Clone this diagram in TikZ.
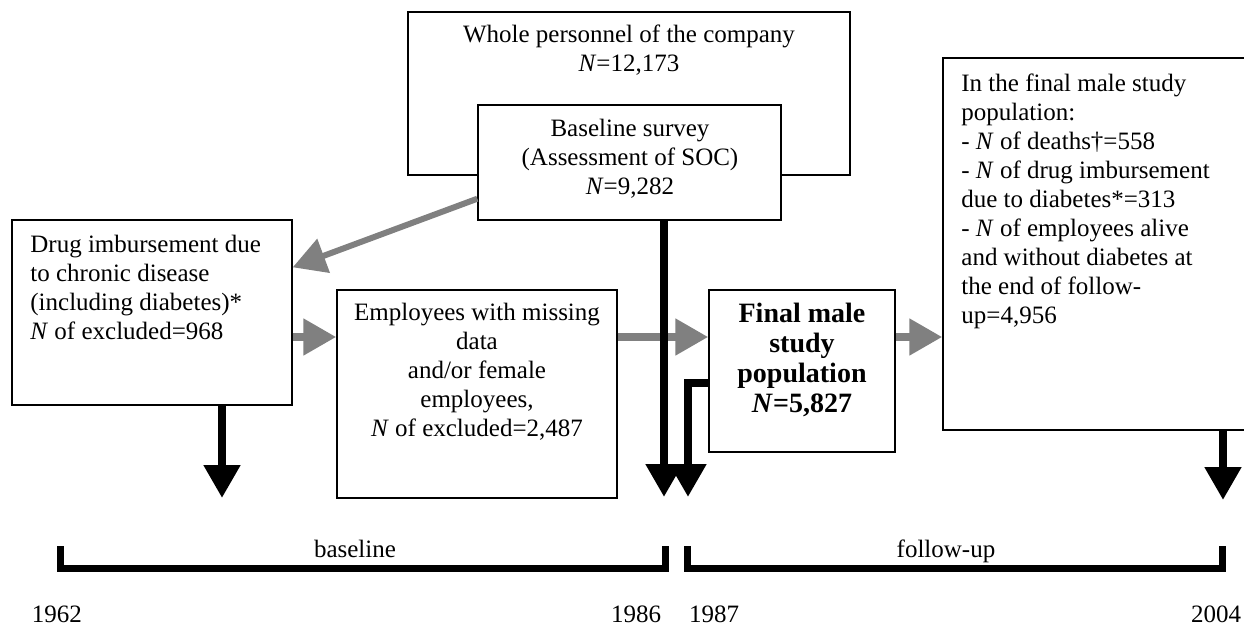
\documentclass[tikz,border=0pt]{standalone}
\usepackage{fontspec}
\setmainfont{Liberation Serif}
\usetikzlibrary{arrows.meta,fit}
\definecolor{arrgrey}{RGB}{128,128,128}
\newcommand{\fs}{\fontsize{12.5pt}{14.5pt}\selectfont}
\newcommand{\fb}{\fontsize{14pt}{15pt}\selectfont\bfseries}

\tikzset{
  box/.style={draw, line width=.7pt, inner sep=0pt},
  txt/.style={font=\fs, inner sep=0pt},
  greyarrow/.style={draw=arrgrey, line width=4pt, -{Triangle[length=16.5pt,width=17.5pt]}},
  blackarrow/.style={line width=4pt, -{Triangle[length=16.5pt,width=17.5pt]}},
  bracket/.style={line width=3.5pt, line join=miter}
}

\begin{document}
\begin{tikzpicture}[x=.5pt, y=-.5pt]
  \clip (0,0) rectangle (1244,627);

  %% boxes
  \node[box, fit={(408,12) (850,175)}] (whole) {};
  \node[box, fill=white, fit={(478,105) (781,220)}] (survey) {};
  \node[box, fit={(12,220) (292,405)}] (drug) {};
  \node[box, fit={(337,290) (617,498)}] (excl) {};
  \node[box, fit={(709,290) (895,452)}] (final) {};
  \node[box, fit={(943,58) (1262,430)}] (result) {};

  %% texts
  \node[txt, align=center] (wholetxt) at (629,50) {Whole personnel of the company\\\textit{N}=12,173};
  \node[txt, align=center] (surveytxt) at (630,159) {Baseline survey\\(Assessment of SOC)\\\textit{N}=9,282};
  \node[txt, align=left, anchor=west] (drugtxt) at (30,287) {Drug imbursement due\\to chronic disease\\(including diabetes)*\\\textit{N} of excluded=968};
  \node[txt, align=center] (excltxt) at (477,372) {Employees with missing\\data\\and/or female\\employees,\\\textit{N} of excluded=2,487};
  \node[txt, align=center, font=\fb] (finaltxt) at (802,360) {Final male\\study\\population\\\textit{N}=5,827};
  \node[txt, align=left, anchor=west] (resulttxt) at (961,201) {In the final male study\\population:\\- \textit{N} of deaths\textdagger=558\\- \textit{N} of drug imbursement\\due to diabetes*=313\\- \textit{N} of employees alive\\and without diabetes at\\the end of follow-\\up=4,956};

  %% coordinates
  \coordinate (mid) at (0,337);
  \coordinate (sdown) at (664,497);
  \coordinate (fturn) at (688,383);
  \coordinate (fdown) at (688,497);
  \coordinate (ddown) at (222,498);
  \coordinate (rdown) at (1223,500);

  %% grey arrows
  \draw[greyarrow, line width=3pt] ([yshift=11pt]survey.south west) -- ([yshift=-24pt]drug.north east);
  \draw[greyarrow] (drug.east |- mid) -- (excl.west |- mid);
  \draw[greyarrow] (excl.east |- mid) -- (final.west |- mid);
  \draw[greyarrow] (final.east |- mid) -- (result.west |- mid);

  %% black arrows
  \draw[blackarrow] (survey.south -| sdown) -- (sdown);
  \draw[blackarrow] (final.west |- fturn) -| (fdown);
  \draw[blackarrow] (drug.south -| ddown) -- (ddown);
  \draw[blackarrow] (result.south -| rdown) -- (rdown);

  %% time line
  \draw[bracket] (60,546) |- (665,568.5) -- (665,546);
  \draw[bracket] (687,546) |- (1222,568.5) -- (1222,546);
  \node[txt, anchor=base] (base) at (355,557) {baseline};
  \node[txt, anchor=base] (follow) at (946,557) {follow-up};
  \node[txt, anchor=base] (y62) at (57,622) {1962};
  \node[txt, anchor=base] (y86) at (636,622) {1986};
  \node[txt, anchor=base] (y87) at (714,622) {1987};
  \node[txt, anchor=base] (y04) at (1216,622) {2004};
\end{tikzpicture}
\end{document}
